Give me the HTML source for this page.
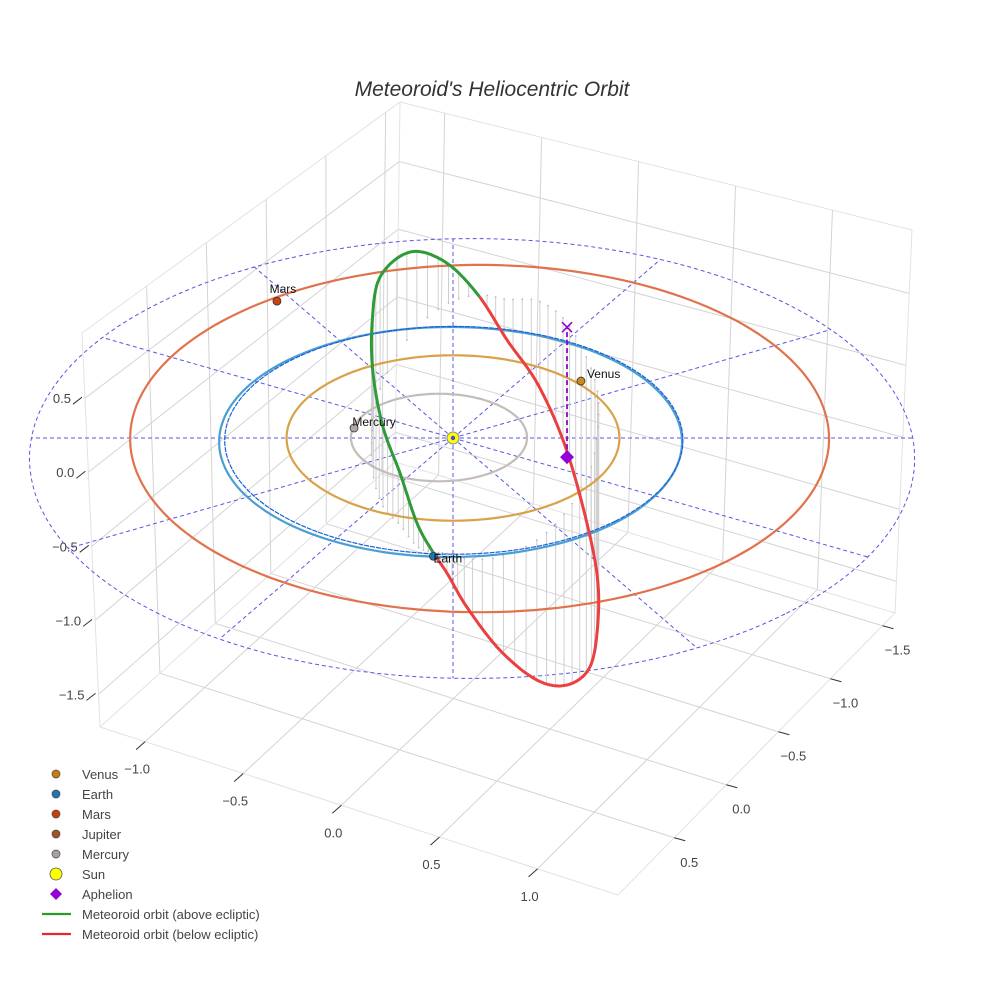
<!DOCTYPE html>
<html><head><meta charset="utf-8"><title>Meteoroid's Heliocentric Orbit</title>
<style>
html,body{margin:0;padding:0;background:#fff;}
svg{display:block;font-family:"Liberation Sans",sans-serif;}
</style></head>
<body>
<svg id="chart" width="984" height="984" viewBox="0 0 984 984" xmlns="http://www.w3.org/2000/svg">
<text x="492" y="96" text-anchor="middle" font-size="21" font-style="italic" fill="#333">Meteoroid's Heliocentric Orbit</text>
<g id="grid"></g>
<g id="axes"></g>
<g id="guides"></g>
<g id="stalks"></g>
<g id="orbits"></g>
<g id="meteoroid"></g>
<g id="markers"></g>
<g id="legend"></g>
</svg>
<script>
// ---------- data ----------
const planetNames = ["Venus","Earth","Mars","Mercury"];
const planetX = [0.041, 0.67, -1.385, -0.365];
const planetY = [-0.744, 0.79, -0.305, 0.242];
const planetColors = ["#c98a1e","#1f77b4","#cc4410","#b0a8a4"];
const orbitNames = ["Mercury","Venus","Earth","Mars"];
const orbitRadius = [0.382, 0.722, 1.004, 1.516];
const orbitCenterX = [-0.046, 0.0, 0.017, 0.085];
const orbitCenterY = [0.040, 0.0, 0.032, -0.078];
const orbitColors = ["#c4bcb8","#d9a24a","#4b9fd0","#e0734c"];
// meteoroid orbit, in-plane coordinates (n along node line, w perpendicular)
const planeNodeDeg = 50;
const planeInclDeg = 63.3;
const orbitN = [1.0,0.956,0.776,0.623,0.345,0.004,-0.398,-0.874,-1.154,-1.253,-1.227,-1.226,-1.086,-0.817,-0.494,-0.154,0.235,0.591,0.856,1.016,1.045,1.006];
const orbitW = [0.0,0.163,0.363,0.557,0.708,0.783,0.784,0.585,0.301,0.0,-0.285,-0.576,-0.855,-1.100,-1.298,-1.374,-1.372,-1.218,-0.979,-0.652,-0.338,-0.137];
const aphelionNW = [-1.007,-0.909];
const guideRadius = 1.92;
const guideCenter = [0.185, 0.068];
const spokeAnglesDeg = [15,45,75,105,135,165,195,225,255,285,315,345];
// axis ticks
const xTicks = [-1.0,-0.5,0.0,0.5,1.0];
const yTicks = [-1.5,-1.0,-0.5,0.0,0.5];
const zTicks = [-1.5,-1.0,-0.5,0.0,0.5];
const xRange = [-1.23, 1.41];
const yRange = [-1.62, 1.04];
const zRange = [-1.72, 0.94];
const legendLabels = ["Venus","Earth","Mars","Jupiter","Mercury","Sun","Aphelion","Meteoroid orbit (above ecliptic)","Meteoroid orbit (below ecliptic)"];
const legendColors = ["#c97a10","#1f77b4","#c8400c","#a0522d","#aaa2a0","#ffff00","#9400d3","#2a9a2a","#e8262b"];

// ---------- projection ----------
const CX = 453, CY = 438;
function project(x,y,z){ return [CX + 163*(x-y), CY + 81*(x+y) - 160*z]; }
const NS = "http://www.w3.org/2000/svg";
function mk(tag, attrs, parent){ const e=document.createElementNS(NS,tag); for(const k in attrs) e.setAttribute(k,attrs[k]); parent.appendChild(e); return e; }
const gGrid=document.getElementById('grid'), gAxes=document.getElementById('axes'), gGuides=document.getElementById('guides'),
 gStalks=document.getElementById('stalks'), gOrbits=document.getElementById('orbits'), gMet=document.getElementById('meteoroid'),
 gMark=document.getElementById('markers'), gLeg=document.getElementById('legend');

// ---------- scene box (decoration) ----------
const BL=[100,727], F=[618,895], BR=[895,613], BB=[395,462], TB=[400,102], TR=[912,230], TL=[82,333];
function bil(p00,p10,p11,p01,s,t){ return [ (1-s)*(1-t)*p00[0]+s*(1-t)*p10[0]+s*t*p11[0]+(1-s)*t*p01[0], (1-s)*(1-t)*p00[1]+s*(1-t)*p10[1]+s*t*p11[1]+(1-s)*t*p01[1] ]; }
function ln(a,b,col,w,parent,name){ const l=mk('line',{x1:a[0],y1:a[1],x2:b[0],y2:b[1],stroke:col,'stroke-width':w},parent);   return l; }
const xf = v => (v-xRange[0])/(xRange[1]-xRange[0]);
const yf = v => (yRange[1]-v)/(yRange[1]-yRange[0]);
const zf = v => (v-zRange[0])/(zRange[1]-zRange[0]);
const gc = "#d4d4d4";
yTicks.forEach(v=>{ const t=yf(v); ln(bil(BL,F,BR,BB,0,t),bil(BL,F,BR,BB,1,t),gc,1,gGrid,'floor-gridline'); });
xTicks.forEach(v=>{ const s=xf(v); ln(bil(BL,F,BR,BB,s,0),bil(BL,F,BR,BB,s,1),gc,1,gGrid,'floor-gridline'); });
yTicks.forEach(v=>{ const s=yf(v); ln(bil(BL,BB,TB,TL,s,0),bil(BL,BB,TB,TL,s,1),gc,1,gGrid,'left-wall-gridline'); });
zTicks.forEach(v=>{ const t=zf(v); ln(bil(BL,BB,TB,TL,0,t),bil(BL,BB,TB,TL,1,t),gc,1,gGrid,'left-wall-gridline'); });
xTicks.forEach(v=>{ const s=xf(v); ln(bil(BB,BR,TR,TB,s,0),bil(BB,BR,TR,TB,s,1),gc,1,gGrid,'right-wall-gridline'); });
zTicks.forEach(v=>{ const t=zf(v); ln(bil(BB,BR,TR,TB,0,t),bil(BB,BR,TR,TB,1,t),gc,1,gGrid,'right-wall-gridline'); });
[[BL,F],[F,BR],[BR,BB],[BB,BL],[BB,TB],[TB,TL],[TB,TR],[TL,BL],[TR,BR]].forEach(e=>ln(e[0],e[1],"#e2e2e2",1,gGrid,'box-edge'));

function lbl(p,txt,anchor,name){ const t=mk('text',{x:p[0],y:p[1],'text-anchor':anchor,'font-size':13,fill:'#444'},gAxes); t.textContent=txt;   }
const fmt = v => (v<0?"\u2212":"")+Math.abs(v).toFixed(1);
xTicks.forEach(v=>{ const e=bil(BL,F,BR,BB,xf(v),0); ln(e,[e[0]-9,e[1]+8],"#333",1,gAxes,'x-tick'); lbl([e[0]-8,e[1]+32],fmt(v),'middle','x-tick-label'); });
yTicks.forEach(v=>{ const e=bil(BL,F,BR,BB,1,yf(v)); ln(e,[e[0]+11,e[1]+3],"#333",1,gAxes,'y-tick'); lbl([e[0]+15,e[1]+29],fmt(v),'middle','y-tick-label'); });
zTicks.forEach(v=>{ const e=bil(BL,BB,TB,TL,0,zf(v)); ln([e[0]-3,e[1]-1],[e[0]-12,e[1]+6],"#333",1,gAxes,'z-tick'); lbl([e[0]-14,e[1]+5],fmt(v),'end','z-tick-label'); });

// ---------- ecliptic guides ----------
function polyPath(pts){ return pts.map((p,i)=>(i?'L':'M')+p[0].toFixed(1)+' '+p[1].toFixed(1)).join(' '); }
(function(){
  const pts=[]; for(let k=0;k<=180;k++){ const a=k/180*2*Math.PI; pts.push(project(guideCenter[0]+guideRadius*Math.cos(a),guideCenter[1]+guideRadius*Math.sin(a),0)); }
  const p=mk('path',{d:polyPath(pts),fill:'none',stroke:'#5a55e0','stroke-width':1,'stroke-dasharray':'4 3'},gGuides);
   
  spokeAnglesDeg.forEach(deg=>{
    const a=deg*Math.PI/180, d=[Math.cos(a),Math.sin(a)];
    const dc=d[0]*guideCenter[0]+d[1]*guideCenter[1], cc=guideCenter[0]**2+guideCenter[1]**2;
    const t=dc+Math.sqrt(dc*dc-cc+guideRadius*guideRadius);
    const s=mk('path',{d:polyPath([project(0,0,0),project(t*d[0],t*d[1],0)]),fill:'none',stroke:'#5a55e0','stroke-width':1,'stroke-dasharray':'4 3'},gGuides);
     
  });
})();

// ---------- planet orbits ----------
orbitRadius.forEach((r,i)=>{
  const pts=[]; for(let k=0;k<=180;k++){ const a=k/180*2*Math.PI; pts.push(project(orbitCenterX[i]+r*Math.cos(a),orbitCenterY[i]+r*Math.sin(a),0)); }
  const p=mk('path',{d:polyPath(pts),fill:'none',stroke:orbitColors[i],'stroke-width':2.2},gOrbits);
   
  if(orbitNames[i]==="Earth"){
    const pts2=[]; for(let k=0;k<=180;k++){ const a=k/180*2*Math.PI; pts2.push(project(orbitCenterX[i]+r*0.99*Math.cos(a),orbitCenterY[i]-0.02+r*0.99*Math.sin(a),0)); }
    const q=mk('path',{d:polyPath(pts2),fill:'none',stroke:'#1d62d8','stroke-width':1.2,'stroke-dasharray':'5 1'},gOrbits);
     
  }
});

// ---------- meteoroid orbit ----------
const Om=planeNodeDeg*Math.PI/180, inc=planeInclDeg*Math.PI/180;
const nHat=[Math.cos(Om),Math.sin(Om),0], wHat=[-Math.sin(Om)*Math.cos(inc),Math.cos(Om)*Math.cos(inc),Math.sin(inc)];
function toXYZ(n,w){ return [n*nHat[0]+w*wHat[0], n*nHat[1]+w*wHat[1], n*nHat[2]+w*wHat[2]]; }
const N=orbitN.length;
function cr(a,b,c,d,t){ const t2=t*t,t3=t2*t; return 0.5*((2*b)+(-a+c)*t+(2*a-5*b+4*c-d)*t2+(-a+3*b-3*c+d)*t3); }
const SEG=20; const samples=[];
for(let i=0;i<N;i++){
  const i0=(i-1+N)%N,i1=i,i2=(i+1)%N,i3=(i+2)%N;
  for(let k=0;k<SEG;k++){ const t=k/SEG;
    samples.push([cr(orbitN[i0],orbitN[i1],orbitN[i2],orbitN[i3],t), cr(orbitW[i0],orbitW[i1],orbitW[i2],orbitW[i3],t)]); }
}
samples.push(samples[0]);
samples.forEach((s,k)=>{ if(k%6!==0) return; const P=toXYZ(s[0],s[1]);
  const a=project(P[0],P[1],P[2]), b=project(P[0],P[1],0);
  const l=mk('line',{x1:a[0],y1:a[1],x2:b[0],y2:b[1],stroke:'#cfcfcf','stroke-width':1},gStalks);
   
  const c=mk('circle',{cx:b[0],cy:b[1],r:0.9,fill:'#bbb'},gStalks);
   
});
let run=[], above=null; const runs=[];
samples.forEach(s=>{ const P=toXYZ(s[0],s[1]); const ab=s[1]>=0; const pp=project(P[0],P[1],P[2]);
  if(above===null) above=ab;
  if(ab!==above){ run.push(pp); runs.push([above,run]); run=[pp]; above=ab; } else run.push(pp); });
runs.push([above,run]);
runs.forEach(r=>{ const p=mk('path',{d:polyPath(r[1]),fill:'none',stroke:r[0]?'#2e9a38':'#ea4040','stroke-width':3,'stroke-linejoin':'round'},gMet);
    });

// aphelion
(function(){
  const P=toXYZ(aphelionNW[0],aphelionNW[1]); const a=project(P[0],P[1],P[2]), b=project(P[0],P[1],0);
  const l=mk('line',{x1:a[0],y1:a[1],x2:b[0],y2:b[1],stroke:'#9400d3','stroke-width':1.8,'stroke-dasharray':'5 3'},gMark);
   
  const x=mk('path',{d:`M${b[0]-5} ${b[1]-5}L${b[0]+5} ${b[1]+5}M${b[0]-5} ${b[1]+5}L${b[0]+5} ${b[1]-5}`,stroke:'#9400d3','stroke-width':1.6,fill:'none'},gMark);
   
  const d=mk('path',{d:`M${a[0]} ${a[1]-7}L${a[0]+7} ${a[1]}L${a[0]} ${a[1]+7}L${a[0]-7} ${a[1]}Z`,fill:'#9400d3'},gMark);
   
})();

// sun
(function(){ const s=project(0,0,0);
  const c=mk('circle',{cx:s[0],cy:s[1],r:6,fill:'#ffff00',stroke:'#888','stroke-width':1},gMark);
   
  const c2=mk('circle',{cx:s[0],cy:s[1],r:2.2,fill:'#4a4ad8'},gMark);
   
})();

// planets
const labelOffsets = {Venus:[6,-3,'start'],Earth:[0,6,'start'],Mars:[6,-8,'middle'],Mercury:[20,-2,'middle']};
planetNames.forEach((nm,i)=>{ const p=project(planetX[i],planetY[i],0);
  const c=mk('circle',{cx:p[0],cy:p[1],r:4,fill:planetColors[i],stroke:'#333','stroke-width':0.8},gMark);
   
  const o=labelOffsets[nm]; const t=mk('text',{x:p[0]+o[0],y:p[1]+o[1],'text-anchor':o[2],'font-size':12,fill:'#111'},gMark);
  t.textContent=nm;  
});

// ---------- legend ----------
legendLabels.forEach((lab,i)=>{ const y=774+i*20;
  const g=mk('g',{},gLeg);  
  let m;
  if(i<5) m=mk('circle',{cx:56,cy:y,r:4,fill:legendColors[i],stroke:'#444','stroke-width':0.7},g);
  else if(i===5) m=mk('circle',{cx:56,cy:y,r:6,fill:legendColors[i],stroke:'#555','stroke-width':0.8},g);
  else if(i===6) m=mk('path',{d:`M56 ${y-6}L62 ${y}L56 ${y+6}L50 ${y}Z`,fill:legendColors[i]},g);
  else m=mk('line',{x1:42,y1:y,x2:71,y2:y,stroke:legendColors[i],'stroke-width':2.2},g);
   
  const t=mk('text',{x:82,y:y+5,'font-size':13,fill:'#444'},g); t.textContent=lab;
   
});
</script>
</body></html>
